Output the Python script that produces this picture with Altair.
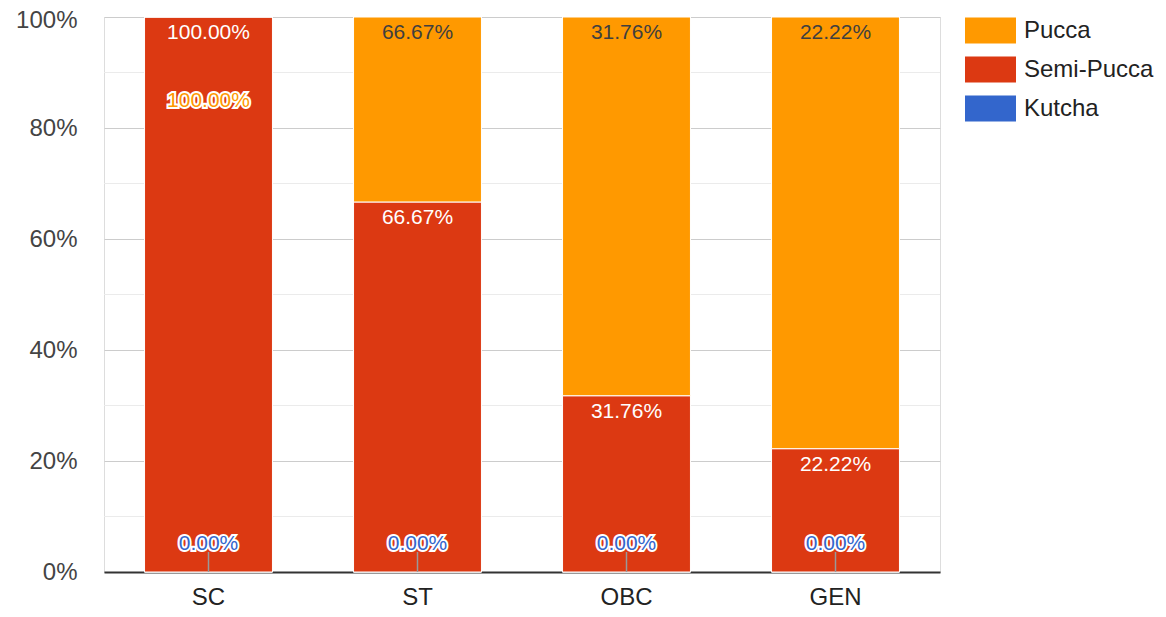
import altair as alt
import pandas as pd

categories = ["SC", "ST", "OBC", "GEN"]
series = ["Pucca", "Semi-Pucca", "Kutcha"]
colors = ["#ff9900", "#dc3912", "#3366cc"]

kutcha = [0.0, 0.0, 0.0, 0.0]
semi_pucca = [100.0, 66.67, 31.76, 22.22]
pucca = [0.0, 33.33, 68.24, 77.78]

kutcha_labels = ["0.00%", "0.00%", "0.00%", "0.00%"]
semi_labels = ["100.00%", "66.67%", "31.76%", "22.22%"]
pucca_labels = ["100.00%", "66.67%", "31.76%", "22.22%"]

y_ticks = [0, 20, 40, 60, 80, 100]
minor_ticks = [10, 30, 50, 70, 90]

FONT = "Liberation Sans"

# long table with stacked extents
rows = []
for i, c in enumerate(categories):
    base = 0.0
    for s, vals, labs, order in [("Kutcha", kutcha, kutcha_labels, 0),
                                  ("Semi-Pucca", semi_pucca, semi_labels, 1),
                                  ("Pucca", pucca, pucca_labels, 2)]:
        v = vals[i]
        rows.append(dict(category=c, series=s, value=v, y0=base, y1=base + v,
                         label=labs[i], order=order))
        base += v
df = pd.DataFrame(rows)

x_enc = alt.X("category:N", sort=categories, title=None,
              scale=alt.Scale(paddingInner=0.388, paddingOuter=0.194),
              axis=alt.Axis(labelFontSize=24, labelColor="#222222", labelFont=FONT,
                            ticks=False, domainColor="#333333", domainWidth=2,
                            labelPadding=13, labelAngle=0, grid=False))
y_scale = alt.Scale(domain=[0, 100], nice=False)

bars = alt.Chart(df).mark_bar(stroke="white", strokeWidth=1).encode(
    x=x_enc,
    y=alt.Y("y1:Q", scale=y_scale, title=None,
            axis=alt.Axis(values=y_ticks, labelExpr="datum.value + '%'",
                          labelFontSize=24, labelColor="#444444", labelFont=FONT,
                          ticks=False, domain=False, labelPadding=27,
                          labelOffset={"condition": {"test": "datum.value == 100", "value": 3},
                                       "value": 0},
                          gridColor="#cccccc", gridWidth=1)),
    y2="y0:Q",
    color=alt.Color("series:N", scale=alt.Scale(domain=series, range=colors),
                    legend=alt.Legend(title=None, orient="none", legendX=861, legendY=-12,
                                      symbolType="M-1,-0.51H1V0.51H-1Z", symbolSize=2601,
                                      symbolStrokeWidth=0, labelFontSize=24, labelFont=FONT,
                                      labelColor="#222222", labelOffset=8, rowPadding=-6.5,
                                      padding=0)),
    order=alt.Order("order:Q"),
)

minor = alt.Chart(pd.DataFrame({"v": minor_ticks})).mark_rule(
    color="#ebebeb", strokeWidth=1).encode(y=alt.Y("v:Q", scale=y_scale))

semi_df = df[df.series == "Semi-Pucca"]
semi_text = alt.Chart(semi_df).mark_text(
    font=FONT, fontSize=21, color="white", baseline="middle", dy=16).encode(
    x=alt.X("category:N", sort=categories), y=alt.Y("y1:Q", scale=y_scale), text="label:N")

pucca_in = df[(df.series == "Pucca") & (df.value > 0)]
pucca_text = alt.Chart(pucca_in).mark_text(
    font=FONT, fontSize=21, color="#3f3f3f", baseline="middle", dy=16).encode(
    x=alt.X("category:N", sort=categories), y=alt.Y("y1:Q", scale=y_scale), text="label:N")

pucca_out = df[(df.series == "Pucca") & (df.value == 0)]
pucca_out_stroke = alt.Chart(pucca_out).mark_text(
    font=FONT, fontSize=21, color="white", stroke="white", strokeWidth=4,
    baseline="middle", dy=84).encode(
    x=alt.X("category:N", sort=categories), y=alt.Y("y1:Q", scale=y_scale), text="label:N")
pucca_out_fill = alt.Chart(pucca_out).mark_text(
    font=FONT, fontSize=21, color="#ff9900", baseline="middle", dy=84).encode(
    x=alt.X("category:N", sort=categories), y=alt.Y("y1:Q", scale=y_scale), text="label:N")

kut_df = df[df.series == "Kutcha"]
stem = alt.Chart(kut_df).mark_rule(color="#999999", strokeWidth=1.5).encode(
    x=alt.X("category:N", sort=categories), y=alt.Y("y0:Q", scale=y_scale),
    y2=alt.value(535))
kut_stroke = alt.Chart(kut_df).mark_text(
    font=FONT, fontSize=21, color="white", stroke="white", strokeWidth=4,
    baseline="middle", dy=-28).encode(
    x=alt.X("category:N", sort=categories), y=alt.Y("y0:Q", scale=y_scale), text="label:N")
kut_fill = alt.Chart(kut_df).mark_text(
    font=FONT, fontSize=21, color="#3366cc", baseline="middle", dy=-28).encode(
    x=alt.X("category:N", sort=categories), y=alt.Y("y0:Q", scale=y_scale), text="label:N")

chart = alt.layer(
    minor, bars, semi_text, pucca_text, pucca_out_stroke, pucca_out_fill,
    stem, kut_stroke, kut_fill
).properties(
    width=836, height=555,
    autosize=alt.AutoSizeParams(type="none"),
    padding={"left": 96, "top": 9, "right": 218, "bottom": 37},
).configure_view(stroke=None).configure(font=FONT)

chart.save("out.html", embed_options={"renderer": "svg", "actions": False})
